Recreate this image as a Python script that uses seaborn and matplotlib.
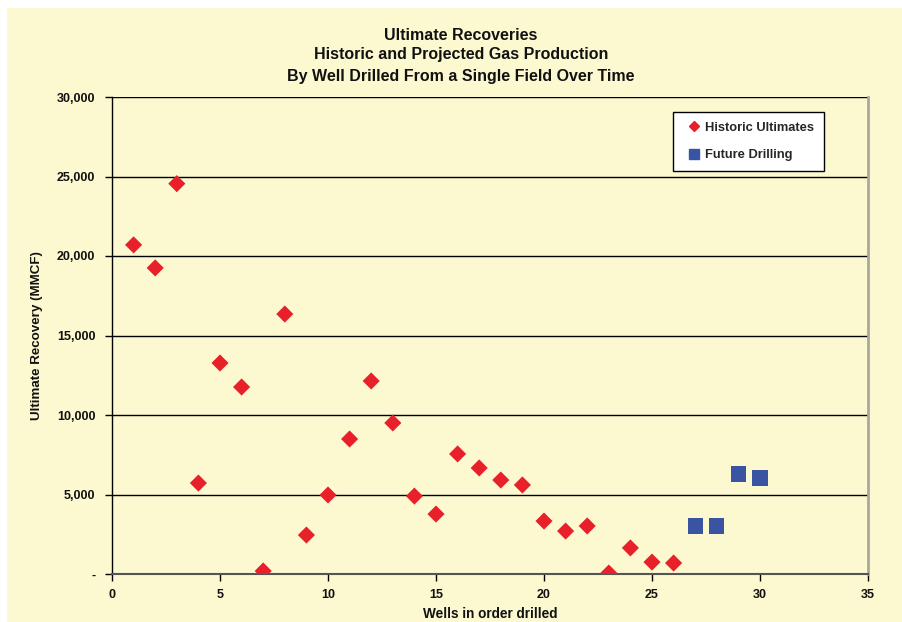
import matplotlib
matplotlib.use("Agg")
import matplotlib.pyplot as plt
import matplotlib.ticker as mticker
from matplotlib.patches import Rectangle
from matplotlib.lines import Line2D
import seaborn as sns
import pandas as pd
import numpy as np

# Data
hist_wells = list(range(1, 27))
hist_values = [20700, 19250, 24550, 5720, 13270, 11760, 190, 16350, 2450, 4970,
               8490, 12140, 9500, 4900, 3770, 7550, 6670, 5910, 5600, 3330,
               2700, 3020, 60, 1640, 750, 690]
future_wells = [27, 28, 29, 30]
future_values = [3020, 3020, 6290, 6040]

series_names = ["Historic Ultimates", "Future Drilling"]
y_ticks = [0, 5000, 10000, 15000, 20000, 25000, 30000]
y_tick_labels = ["-", "5,000", "10,000", "15,000", "20,000", "25,000", "30,000"]
x_ticks = [0, 5, 10, 15, 20, 25, 30, 35]

df = pd.DataFrame({
    "well": hist_wells + future_wells,
    "value": hist_values + future_values,
    "series": [series_names[0]] * len(hist_wells) + [series_names[1]] * len(future_wells),
})

sns.set_theme(style="white")
plt.rcParams["font.family"] = ["Liberation Sans", "DejaVu Sans"]
plt.rcParams["font.weight"] = "bold"

bg = "#FCF8D0"
red = "#E8202A"
blue = "#3A54A4"

fig = plt.figure(figsize=(9.03, 6.22), dpi=100)
fig.patch.set_facecolor("white")
bgrect = Rectangle((7 / 903, 0), 1 - 7 / 903, 1 - 8 / 622,
                   transform=fig.transFigure, facecolor=bg,
                   edgecolor="none", zorder=-10)
fig.add_artist(bgrect)

ax = fig.add_axes([112 / 903, 1 - 574 / 622, (868 - 112) / 903, (574 - 97) / 622])
ax.set_zorder(2)
ax.set_facecolor(bg)

sns.scatterplot(data=df, x="well", y="value", hue="series", style="series",
                palette={series_names[0]: red, series_names[1]: blue},
                markers={series_names[0]: "D", series_names[1]: "s"},
                s=100, linewidth=0, ax=ax, zorder=3, legend=False)
sizes = np.array([76 if s == series_names[0] else 122 for s in df["series"]])
ax.collections[0].set_sizes(sizes)

ax.set_xlim(0, 35)
ax.set_ylim(0, 30000)
ax.set_xticks(x_ticks)
ax.set_yticks(y_ticks)
ax.set_yticklabels(y_tick_labels)
ax.xaxis.set_major_formatter(mticker.FormatStrFormatter("%d"))

for y in y_ticks[1:]:
    ax.axhline(y, color="black", linewidth=1.0, zorder=1)

ax.spines["left"].set_color("black")
ax.spines["left"].set_linewidth(1.0)
ax.spines["bottom"].set_color("#555555")
ax.spines["bottom"].set_linewidth(1.5)
ax.spines["right"].set_color("#A8A8A0")
ax.spines["right"].set_linewidth(2.0)
ax.spines["top"].set_visible(False)

ax.tick_params(axis="both", which="major", direction="out", length=5, width=1,
               color="black", labelsize=9, left=True, bottom=True)
ax.tick_params(axis="y", pad=7)
ax.tick_params(axis="x", pad=6)
for lbl in ax.get_xticklabels() + ax.get_yticklabels():
    lbl.set_fontweight("bold")
    lbl.set_color("#111111")

ax.set_xlabel("Wells in order drilled", fontsize=9.8, fontweight="bold",
              labelpad=4, color="#111111")
ax.set_ylabel("Ultimate Recovery (MMCF)", fontsize=9.6, fontweight="bold",
              labelpad=10, color="#111111")

title_x = 461 / 903
for txt, ypix in [("Ultimate Recoveries", 35),
                  ("Historic and Projected Gas Production", 55),
                  ("By Well Drilled From a Single Field Over Time", 76)]:
    fig.text(title_x, 1 - ypix / 622, txt, ha="center", va="center",
             fontsize=11.5, fontweight="bold", color="#111111")

handles = [Line2D([], [], marker="D", color=red, linestyle="none", markersize=5.5),
           Line2D([], [], marker="s", color=blue, linestyle="none", markersize=6.5)]
leg = ax.legend(handles, series_names, loc="upper left",
                bbox_to_anchor=((673 - 112) / 756, (574 - 112) / 477),
                frameon=True, fancybox=False, framealpha=1, edgecolor="black",
                prop={"weight": "bold", "size": 9.3}, handletextpad=0.05,
                handlelength=1.7, labelspacing=1.2, borderpad=0.75, borderaxespad=0)
leg.get_frame().set_linewidth(1.0)
leg.get_frame().set_facecolor("white")

fig.savefig("out.png", dpi=100, facecolor=fig.get_facecolor())
